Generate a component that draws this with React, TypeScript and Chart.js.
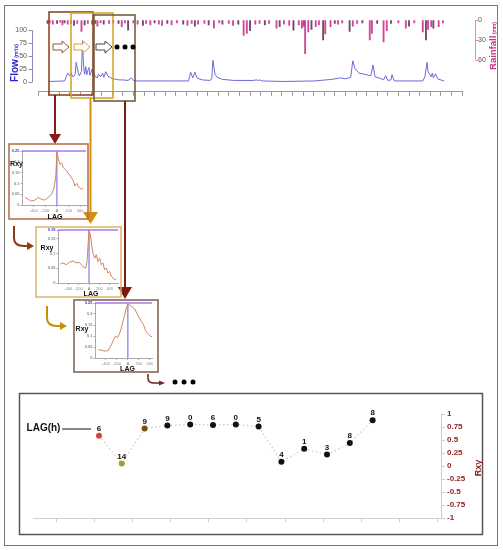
import React, { useEffect, useRef } from "react";
import { Chart, registerables } from "chart.js";
Chart.register(...registerables);

const FONT = 'Arial, "Liberation Sans", Helvetica, sans-serif';

// ---------- Top panel: streamflow (m3/s) and rainfall (mm) by day ----------
const flowDays = [5,20,23,25,26,28,30,31,33,34,36,37,38,39,40,41,42,43,44,45,46,47,48,49,51,52,54,56,57,59,61,63,66,69,72,75,80,83,85,88,118,137,139,141,143,145,147,150,157,159,160,162,164,169,180,198,201,203,204,207,226,256,272,278,281,285,290,292,294,298,303,309,311,313,318,321,323,325,328,329,331,358,360,362,363,366,367,368,370,372,375,378];
const flowValues = [1,2,17,12,18,10,14,38,18,12,20,80,30,15,30,14,22,28,13,18,25,12,16,10,8,15,10,17,9,20,11,9,6,5,4,4,3,8,3,2,2,2,19,8,19,8,6,4,3,6,42,15,9,5,3,3,4,3,4,2,1,2,5,7,8,6,9,41,26,17,15,12,33,10,7,4,12,3,4,14,2,2,10,38,20,10,17,8,16,6,4,2];
const rainDays = [4,6,9,13,16,18,20,23,26,29,32,36,39,42,46,49,51,54,57,62,66,71,74,77,80,85,89,94,97,101,105,109,112,117,121,126,132,136,140,143,146,152,156,161,166,169,175,179,184,189,192,195,200,204,209,213,220,223,227,232,236,241,244,246,247,250,253,257,260,264,266,271,275,278,282,289,292,296,301,308,310,315,321,324,328,335,342,345,350,358,361,363,366,368,373,377];
const rainValues = [5,4,6,5,3,7,4,6,5,8,5,17,7,5,6,5,9,4,6,5,4,5,10,4,15,4,6,8,5,7,4,6,8,5,7,4,6,8,5,9,6,5,7,12,4,6,5,8,6,23,20,16,6,5,7,5,12,10,6,8,15,7,12,9,51,18,14,10,7,30,21,10,5,6,4,17,9,5,4,30,20,5,33,16,5,4,12,9,4,18,30,14,10,12,10,4];
const flowTicks = [0, 25, 50, 75, 100];
const rainTicks = [0, 30, 60];

// ---------- Cross-correlograms (lag vs Rxy) ----------
const cc1Lags = [-550,-490,-435,-375,-320,-260,-205,-150,-90,-50,-20,0,30,55,80,110,140,170,195,225,255,280,310,340,370,395,425,455];
const cc1Rxy = [0.035,0.025,0.018,0.023,0.035,0.025,0.023,0.035,0.05,0.078,0.13,0.245,0.208,0.188,0.195,0.173,0.165,0.158,0.145,0.138,0.123,0.113,0.088,0.1,0.085,0.078,0.073,0.078];
const cc2Lags = [-555,-503,-439,-374,-310,-246,-194,-149,-104,-65,-39,-14,0,25,51,77,109,141,173,206,238,270,302,334,367,399,431,463,496,528];
const cc2Rxy = [0.064,0.068,0.062,0.071,0.075,0.068,0.071,0.062,0.053,0.051,0.073,0.141,0.18,0.163,0.129,0.101,0.084,0.096,0.073,0.084,0.062,0.068,0.045,0.051,0.034,0.039,0.023,0.017,0.011,0.015];
const cc3Lags = [-537,-474,-411,-360,-316,-285,-253,-222,-190,-159,-127,-96,-64,-33,0,30,62,93,125,156,188,219,251,282,314,345,377,408,440];
const cc3Rxy = [0.038,0.035,0.031,0.035,0.054,0.069,0.088,0.1,0.092,0.107,0.13,0.161,0.192,0.223,0.245,0.241,0.235,0.23,0.223,0.207,0.192,0.177,0.164,0.153,0.13,0.115,0.107,0.1,0.097];
const ccLagTicks = [-400, -200, 0, 200, 400];

// ---------- Bottom panel: maximum Rxy per window with lag (h) ----------
const lagLabels = ["6","14","9","9","0","6","0","5","4","1","3","8","8"];
const rxyValues = [0.58,0.05,0.72,0.78,0.80,0.79,0.80,0.76,0.08,0.33,0.22,0.44,0.88];
const rxyTicks = [-1, -0.75, -0.5, -0.25, 0, 0.25, 0.5, 0.75, 1];
const pointColors = ["#d2483a","#a8a028","#7a4a18","#111","#111","#111","#111","#111","#111","#111","#111","#111","#111"];

function useChart(make: (c: HTMLCanvasElement) => Chart) {
  const ref = useRef<HTMLCanvasElement>(null);
  useEffect(() => {
    if (!ref.current) return;
    const ch = make(ref.current);
    return () => ch.destroy();
  }, []);
  return ref;
}

function Txt({ x, y, rot = 0, style, children }: any) {
  return (
    <div style={{ position: "absolute", left: x, top: y, transform: `translate(-50%,-50%) rotate(${rot}deg)`, whiteSpace: "nowrap", lineHeight: 1, fontFamily: FONT, ...style }}>
      {children}
    </div>
  );
}

const topAxesPlugin = {
  id: "topAxes",
  afterDraw(chart: any) {
    const { ctx, chartArea } = chart;
    const y = chart.scales.y, y2 = chart.scales.y2;
    ctx.save();
    ctx.lineWidth = 1;
    ctx.strokeStyle = "#8a8abc";
    const lx = Math.round(chartArea.left - 6) + 0.5;
    ctx.beginPath();
    ctx.moveTo(lx, y.getPixelForValue(0));
    ctx.lineTo(lx, y.getPixelForValue(100));
    flowTicks.forEach((v) => { const py = Math.round(y.getPixelForValue(v)) + 0.5; ctx.moveTo(lx - 4, py); ctx.lineTo(lx, py); });
    ctx.stroke();
    ctx.strokeStyle = "#d890bc";
    const rx = Math.round(chartArea.right + 13) + 0.5;
    ctx.beginPath();
    ctx.moveTo(rx, y2.getPixelForValue(0));
    ctx.lineTo(rx, y2.getPixelForValue(60));
    rainTicks.forEach((v) => { const py = Math.round(y2.getPixelForValue(v)) + 0.5; ctx.moveTo(rx, py); ctx.lineTo(rx + 4, py); });
    ctx.stroke();
    ctx.restore();
  },
};

function FlowRainChart() {
  const ref = useChart((cv) => new Chart(cv, {
    type: "bar",
    data: {
      datasets: [
        { type: "line", label: "Flow", data: flowDays.map((d, i) => ({ x: d, y: flowValues[i] })), yAxisID: "y", borderColor: "#6a6ad8", borderWidth: 1, pointRadius: 0, tension: 0, order: 1 } as any,
        { type: "bar", label: "Rainfall", data: rainDays.map((d, i) => ({ x: d, y: rainValues[i] })), yAxisID: "y2", backgroundColor: (c: any) => (c.dataIndex % 3 === 0 ? "#6e4a64" : "#d2469a"), barThickness: 1.2, order: 2 } as any,
      ],
    },
    options: {
      responsive: false, animation: false, devicePixelRatio: 1,
      layout: { padding: { top: 13.5, left: 0, right: 0, bottom: 0 } },
      plugins: { legend: { display: false }, tooltip: { enabled: false } },
      scales: {
        x: { type: "linear", min: 0, max: 390, afterFit: (s: any) => { s.height = 11; }, ticks: { display: false, stepSize: 10 }, grid: { display: true, drawOnChartArea: false, drawTicks: true, tickLength: 4, color: "#9a9a9a" }, border: { display: true, color: "#9a9a9a" } },
        y: { position: "left", min: -19.05, max: 119.84, afterFit: (s: any) => { s.width = 38; }, afterBuildTicks: (s: any) => { s.ticks = flowTicks.map((v) => ({ value: v })); }, ticks: { padding: 11, font: { size: 7, family: FONT }, color: "#555", callback: (v: any) => String(v) }, grid: { display: false, drawTicks: false }, border: { display: false } },
        y2: { position: "right", reverse: true, min: 0, max: 108.9, afterFit: (s: any) => { s.width = 41; }, afterBuildTicks: (s: any) => { s.ticks = rainTicks.map((v) => ({ value: v })); }, ticks: { padding: 16, font: { size: 7, family: FONT }, color: "#555", callback: (v: any) => String(v) }, grid: { display: false, drawTicks: false }, border: { display: false } },
      },
    } as any,
    plugins: [topAxesPlugin],
  }));
  return <canvas ref={ref} width={503} height={112} style={{ position: "absolute", left: 0, top: 0, width: 503, height: 112 }} />;
}

function CrossCorr({ plot, lags, values, maxR, xMin, xMax }: any) {
  const padL = 14, padT = 4, padR = 4, padB = 9;
  const w = plot.r - plot.l + padL + padR;
  const h = plot.b - plot.t + padT + padB;
  const ref = useChart((cv) => new Chart(cv, {
    type: "line",
    data: {
      datasets: [
        { data: lags.map((l: number, i: number) => ({ x: l, y: values[i] })), borderColor: "#d08462", borderWidth: 1, pointRadius: 0, tension: 0 },
        { data: [{ x: xMin, y: maxR }, { x: xMax, y: maxR }], borderColor: "#a878ea", borderWidth: 1.5, pointRadius: 0, clip: 4 } as any,
        { data: [{ x: 0, y: 0 }, { x: 0, y: maxR }], borderColor: "#6464e6", borderWidth: 1, pointRadius: 0, clip: 4 } as any,
      ],
    },
    options: {
      responsive: false, animation: false, devicePixelRatio: 1,
      layout: { padding: { top: padT, right: padR, left: 0, bottom: 0 } },
      plugins: { legend: { display: false }, tooltip: { enabled: false } },
      scales: {
        x: { type: "linear", min: xMin, max: xMax, afterFit: (s: any) => { s.height = padB; }, afterBuildTicks: (s: any) => { s.ticks = ccLagTicks.map((v) => ({ value: v })); }, ticks: { autoSkip: false, maxRotation: 0, padding: 1, font: { size: 4, family: FONT }, color: (c: any) => (c.tick && c.tick.value === 0 ? "#111" : "#888"), callback: (v: any) => String(v) }, grid: { display: true, drawOnChartArea: false, tickLength: 2, color: "#aaa" }, border: { color: "#aaa" } },
        y: { min: 0, max: maxR, afterFit: (s: any) => { s.width = padL; }, afterBuildTicks: (s: any) => { const t = [0, 0.05, 0.1, 0.15, 0.2].filter((v) => v < maxR - 0.02); t.push(maxR); s.ticks = t.map((v) => ({ value: v })); }, ticks: { autoSkip: false, padding: 1, font: { size: 4, family: FONT, weight: "bold" }, color: (c: any) => (c.tick && c.tick.value === maxR ? "#3c3cd8" : "#888"), callback: (v: any) => String(v) }, grid: { display: true, drawOnChartArea: false, tickLength: 1.5, color: "#aaa" }, border: { color: "#aaa" } },
      },
    } as any,
  }));
  return <canvas ref={ref} width={w} height={h} style={{ position: "absolute", left: plot.l - padL, top: plot.t - padT, width: w, height: h }} />;
}

const pointLabelPlugin = {
  id: "pointLabels",
  afterDatasetsDraw(chart: any) {
    const { ctx } = chart;
    const meta = chart.getDatasetMeta(0);
    ctx.save();
    ctx.font = `bold 8px ${FONT}`;
    ctx.fillStyle = "#111";
    ctx.textAlign = "center";
    ctx.textBaseline = "middle";
    meta.data.forEach((p: any, i: number) => { ctx.fillText(lagLabels[i], p.x, p.y - 7); });
    ctx.restore();
  },
};

function RxyChart() {
  const xTickStart = -1.886, xTickStep = 1.675;
  const ref = useChart((cv) => new Chart(cv, {
    type: "line",
    data: {
      datasets: [{
        data: rxyValues.map((v, i) => ({ x: i, y: v })),
        borderColor: "#e4bcc6", borderWidth: 1.2, borderDash: [1.5, 2.5],
        pointRadius: 3, pointBackgroundColor: pointColors, pointBorderWidth: 0, tension: 0,
      }],
    },
    options: {
      responsive: false, animation: false, devicePixelRatio: 1,
      layout: { padding: { top: 20, left: 13, right: 0, bottom: 0 } },
      plugins: { legend: { display: false }, tooltip: { enabled: false } },
      scales: {
        x: { type: "linear", min: -2.895, max: 15.0, afterFit: (s: any) => { s.height = 16; }, afterBuildTicks: (s: any) => { const t = []; for (let k = 0; k <= 10; k++) t.push({ value: xTickStart + k * xTickStep }); s.ticks = t; }, ticks: { display: false }, grid: { display: true, drawOnChartArea: false, tickLength: 4, color: "#cfcfcf" }, border: { color: "#cfcfcf" } },
        y: { position: "right", min: -1, max: 1, afterFit: (s: any) => { s.width = 41; }, afterBuildTicks: (s: any) => { s.ticks = rxyTicks.map((v) => ({ value: v })); }, ticks: { padding: 2, font: { size: 8, weight: "bold", family: FONT }, color: "#8e1c1c", callback: (v: any) => String(v) }, grid: { display: true, drawOnChartArea: false, tickLength: 4, color: "#cfcfcf" }, border: { color: "#cfcfcf" } },
      },
    } as any,
    plugins: [pointLabelPlugin],
  }));
  return <canvas ref={ref} width={462} height={140} style={{ position: "absolute", left: 20, top: 394, width: 462, height: 140 }} />;
}

function hollowArrow(x0: number, y: number) {
  return `M${x0},${y - 3} L${x0 + 9},${y - 3} L${x0 + 9},${y - 6} L${x0 + 16},${y} L${x0 + 9},${y + 6} L${x0 + 9},${y + 3} L${x0},${y + 3} Z`;
}

export default function App() {
  return (
    <div style={{ position: "absolute", left: 0, top: 0, width: 503, height: 550, background: "#fff", fontFamily: FONT, overflow: "hidden" }}>
      <FlowRainChart />
      <CrossCorr plot={{ l: 22, t: 151, r: 86, b: 205 }} lags={cc1Lags} values={cc1Rxy} maxR={0.25} xMin={-600} xMax={500} />
      <CrossCorr plot={{ l: 58, t: 230, r: 118, b: 283 }} lags={cc2Lags} values={cc2Rxy} maxR={0.18} xMin={-600} xMax={560} />
      <CrossCorr plot={{ l: 95, t: 303, r: 152, b: 358 }} lags={cc3Lags} values={cc3Rxy} maxR={0.25} xMin={-600} xMax={440} />
      <RxyChart />

      <svg width={503} height={550} style={{ position: "absolute", left: 0, top: 0, pointerEvents: "none" }}>
        <rect x={4.5} y={5.5} width={493} height={540} fill="none" stroke="#777" strokeWidth={1} />
        {/* selection windows on the hydrograph */}
        <rect x={49} y={12} width={44} height={83} fill="none" stroke="#8b3a1a" strokeWidth={1.5} />
        <rect x={71} y={13} width={42} height={85} fill="none" stroke="#d4a020" strokeWidth={1.5} />
        <rect x={94} y={15} width={41} height={86} fill="none" stroke="#6b5530" strokeWidth={1.5} />
        <path d={hollowArrow(53, 47)} fill="#fff" stroke="#8b5a3a" strokeWidth={1} />
        <path d={hollowArrow(74, 47)} fill="#fff" stroke="#d8a040" strokeWidth={1} />
        <path d={hollowArrow(96, 47)} fill="#fff" stroke="#3c4c3c" strokeWidth={1} />
        <circle cx={117} cy={47} r={2.5} fill="#000" />
        <circle cx={125} cy={47} r={2.5} fill="#000" />
        <circle cx={133} cy={47} r={2.5} fill="#000" />
        {/* down arrows */}
        <line x1={55} y1={95} x2={55} y2={135} stroke="#8b1a10" strokeWidth={2} />
        <polygon points="49,134 61,134 55,144" fill="#8b1a10" />
        <line x1={90.5} y1={98} x2={90.5} y2={213} stroke="#d4900a" strokeWidth={2} />
        <polygon points="83,212 98,212 90.5,224" fill="#d4900a" />
        <line x1={125} y1={101} x2={125} y2={288} stroke="#7a1a10" strokeWidth={2} />
        <polygon points="118,287 132,287 125,299" fill="#7a1a10" />
        {/* correlogram frames */}
        <rect x={9} y={144} width={79} height={75} fill="none" stroke="#b5693f" strokeWidth={1.5} />
        <rect x={36} y={227} width={85} height={70} fill="none" stroke="#d9b56a" strokeWidth={1.5} />
        <rect x={74} y={300} width={84} height={72} fill="none" stroke="#7d5d4d" strokeWidth={1.5} />
        {/* curved arrows */}
        <path d="M14,226 L14,238 Q14,246 24,246 L28,246" fill="none" stroke="#8b3a1a" strokeWidth={2} />
        <polygon points="27,242 34,246 27,250" fill="#8b3a1a" />
        <path d="M47,306 L47,318 Q47,326 57,326 L61,326" fill="none" stroke="#c8900a" strokeWidth={2} />
        <polygon points="60,322 67,326 60,330" fill="#c8900a" />
        <path d="M148,374 L148,378 Q148,383 154,383 L160,383" fill="none" stroke="#6b2a1a" strokeWidth={1.5} />
        <polygon points="159,380.5 165,383 159,385.5" fill="#6b2a1a" />
        <circle cx={175} cy={382} r={2.5} fill="#000" />
        <circle cx={184} cy={382} r={2.5} fill="#000" />
        <circle cx={193} cy={382} r={2.5} fill="#000" />
        {/* bottom panel frame */}
        <rect x={19.5} y={393.5} width={463} height={141} fill="none" stroke="#555" strokeWidth={1.5} />
        <line x1={62} y1={429} x2={91} y2={429} stroke="#111" strokeWidth={1} />
      </svg>

      <Txt x={12.5} y={63} rot={-90} style={{ color: "#2828c8" }}>
        <span style={{ fontWeight: "bold", fontSize: 10 }}>Flow</span>
        <span style={{ fontSize: 5, fontWeight: "bold" }}> (m³/s)</span>
      </Txt>
      <Txt x={491} y={46} rot={-90} style={{ color: "#c8308a" }}>
        <span style={{ fontWeight: "bold", fontSize: 9.5 }}>Rainfall</span>
        <span style={{ fontSize: 5, fontWeight: "bold" }}> (mm)</span>
      </Txt>

      <Txt x={16.5} y={163} style={{ fontSize: 7, fontWeight: "bold", color: "#111" }}>Rxy</Txt>
      <Txt x={55} y={215.5} style={{ fontSize: 7, fontWeight: "bold", color: "#111" }}>LAG</Txt>
      <Txt x={47} y={247} style={{ fontSize: 7, fontWeight: "bold", color: "#111" }}>Rxy</Txt>
      <Txt x={91} y={293} style={{ fontSize: 7, fontWeight: "bold", color: "#111" }}>LAG</Txt>
      <Txt x={82} y={328} style={{ fontSize: 7, fontWeight: "bold", color: "#111" }}>Rxy</Txt>
      <Txt x={127.5} y={367.5} style={{ fontSize: 7, fontWeight: "bold", color: "#111" }}>LAG</Txt>

      <Txt x={43.5} y={427.5} style={{ fontSize: 10, fontWeight: "bold", color: "#111" }}>LAG(h)</Txt>
      <Txt x={477.5} y={468} rot={-90} style={{ fontSize: 9, fontWeight: "bold", color: "#8e1c1c" }}>Rxy</Txt>
    </div>
  );
}
